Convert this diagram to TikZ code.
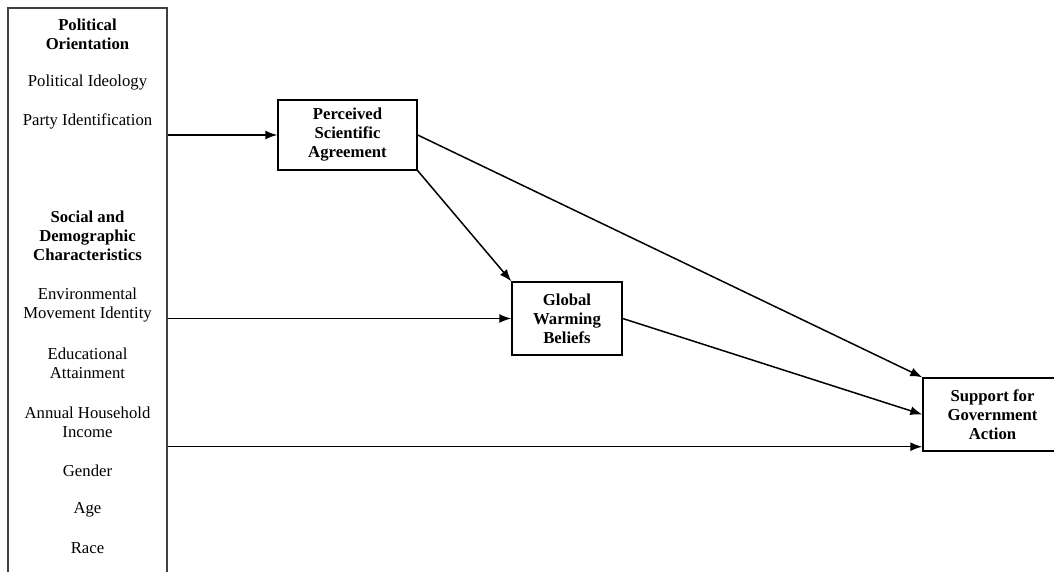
\documentclass[tikz,border=0pt]{standalone}
\usepackage{fontspec}
\setmainfont{Liberation Serif}
\usetikzlibrary{arrows.meta}
\tikzset{block/.style=
   {rectangle,
    draw,
    line width=1.4pt,
    align=center,
    inner sep=0pt,
    font=\fontsize{16.7}{19}\selectfont\bfseries}}
\tikzset{panel/.style=
   {rectangle,
    draw=black!75,
    line width=1.7pt,
    minimum width=159pt,
    minimum height=592pt}}
\tikzset{factor/.style =
   {align=center,
    inner sep=0pt,
    font=\fontsize{16.7}{19}\selectfont}}
\tikzset{heading/.style =
   {factor,
    font=\fontsize{16.7}{19}\selectfont\bfseries}}
\tikzset{arrow/.style = {draw, line width=1.5pt, -{Latex[length=12pt,width=9pt]}}}

\begin{document}
\begin{tikzpicture}[x=1pt, y=-1pt]

    \useasboundingbox (0,0) rectangle (1054,572);

    % left panel, runs off the bottom of the page
    \node [panel] (panel) at (87.5,304) {};

    \node [heading] (polhead) at (87.5,34.5) {Political\\Orientation};
    \node [factor] (ideology) at (87.5,83) {Political Ideology};
    \node [factor] (party) at (87.5,121) {Party Identification};

    \node [heading] (sochead) at (87.5,236) {Social and\\Demographic\\Characteristics};
    \node [factor] (envmove) at (87.5,305.5) {Environmental\\Movement Identity};
    \node [factor] (educ) at (87.5,363) {Educational\\Attainment};
    \node [factor] (income) at (87.5,422) {Annual Household\\Income};
    \node [factor] (gender) at (87.5,471) {Gender};
    \node [factor] (age) at (87.5,510) {Age};
    \node [factor] (race) at (87.5,548) {Race};

    \node [block,
           minimum width=139pt,
           minimum height=70pt] (psa) at (347.5,135)
    {Perceived\\Scientific\\Agreement};

    \node [block,
           minimum width=110pt,
           minimum height=73pt] (gwb) at (567,318.5)
    {Global\\Warming\\Beliefs};

    \node [block,
           minimum width=139pt,
           minimum height=73pt] (sga) at (992.5,414.5)
    {Support for\\Government\\Action};

    \coordinate (sgalow) at ([yshift=5pt]sga.south west);

    \draw [arrow] (panel.east |- psa.west) -- (psa.west);
    \draw [arrow] (panel.east |- gwb.west) -- (gwb.west);
    \draw [arrow] (panel.east |- sgalow) -- (sgalow);
    \draw [arrow] (psa.south east) -- (gwb.north west);
    \draw [arrow] (psa.east) -- (sga.north west);
    \draw [arrow] (gwb.east) -- (sga.west);

\end{tikzpicture}
\end{document}
